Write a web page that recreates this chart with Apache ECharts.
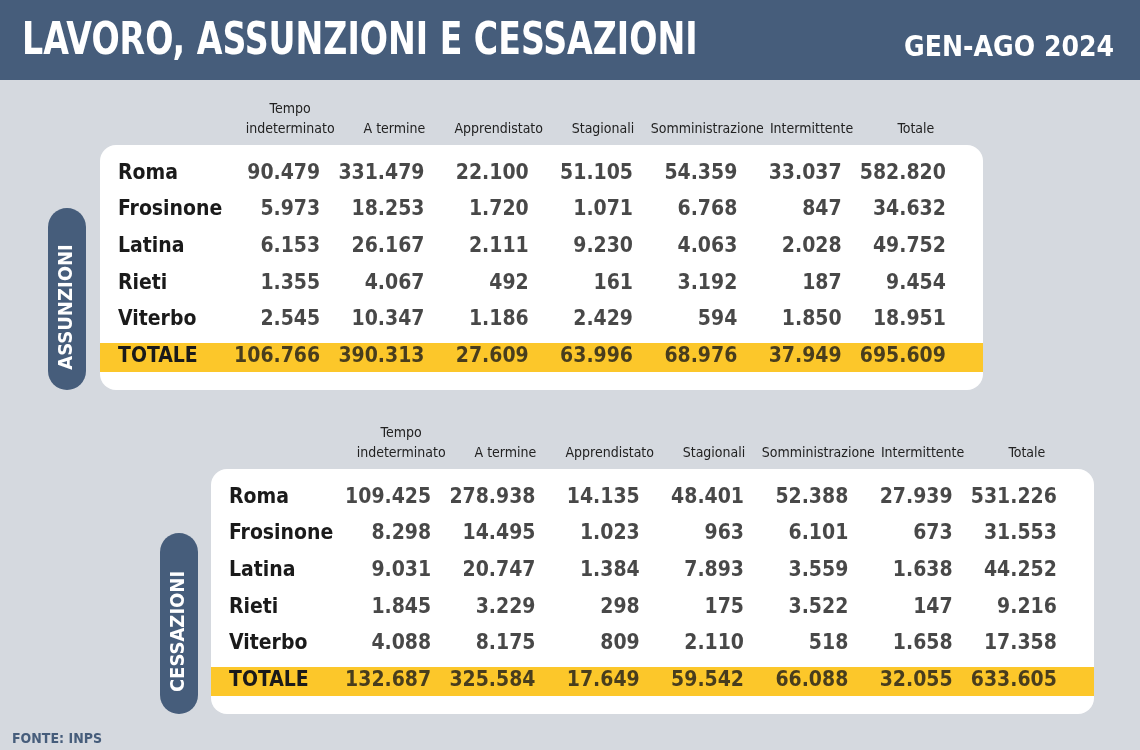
<!DOCTYPE html>
<html><head><meta charset="utf-8">
<script src="https://cdn.jsdelivr.net/npm/echarts@6/dist/echarts.min.js"></script>
<style>html,body{margin:0;padding:0;background:#d5d9df}#chart{width:1140px;height:750px}</style>
</head><body><div id="chart"></div>
<script>
// column headings and row names
var columns = ['Tempo\nindeterminato', 'A termine', 'Apprendistato', 'Stagionali', 'Somministrazione', 'Intermittente', 'Totale'];
var provinces = ['Roma', 'Frosinone', 'Latina', 'Rieti', 'Viterbo', 'TOTALE'];

var assunzioni = [
    [90479, 331479, 22100, 51105, 54359, 33037, 582820],
    [5973, 18253, 1720, 1071, 6768, 847, 34632],
    [6153, 26167, 2111, 9230, 4063, 2028, 49752],
    [1355, 4067, 492, 161, 3192, 187, 9454],
    [2545, 10347, 1186, 2429, 594, 1850, 18951],
    [106766, 390313, 27609, 63996, 68976, 37949, 695609]
];
var cessazioni = [
    [109425, 278938, 14135, 48401, 52388, 27939, 531226],
    [8298, 14495, 1023, 963, 6101, 673, 31553],
    [9031, 20747, 1384, 7893, 3559, 1638, 44252],
    [1845, 3229, 298, 175, 3522, 147, 9216],
    [4088, 8175, 809, 2110, 518, 1658, 17358],
    [132687, 325584, 17649, 59542, 66088, 32055, 633605]
];

const FONT = '"DejaVu Sans Condensed", "Liberation Sans Narrow", sans-serif';
const SLATE = '#465d7b';
const YELLOW = '#fcc72a';

function fmt(n) {
    return String(n).replace(/\B(?=(\d{3})+(?!\d))/g, '.');
}
function cells(table) {
    var out = [];
    table.forEach((row, r) => row.forEach((v, c) => out.push([c, r, v])));
    return out;
}

// table layout: grid box for the numeric columns, panel around it
function tableParts(idx, dx, dy, table) {
    var grid = {left: 238 + dx, top: 155 + dy, width: 730, height: 220};
    var xAxis = {
        gridIndex: idx, type: 'category', data: columns, position: 'top',
        axisLine: {show: false}, axisTick: {show: false}, splitLine: {show: false},
        axisLabel: {interval: 0, margin: 16, color: '#222', fontFamily: FONT, fontSize: 14, lineHeight: 20}
    };
    var yAxis = {
        gridIndex: idx, type: 'category', data: provinces, inverse: true,
        axisLine: {show: false}, axisTick: {show: false}, splitLine: {show: false},
        axisLabel: {interval: 0, align: 'left', margin: 120, color: '#1a1a1a', fontFamily: FONT, fontSize: 21, fontWeight: 'bold'}
    };
    var series = {
        type: 'scatter', xAxisIndex: idx, yAxisIndex: idx, symbolSize: 0,
        data: cells(table), silent: true,
        label: {show: true, position: 'inside', align: 'right', offset: [30, 0],
            formatter: p => fmt(p.value[2]), color: '#1a1a1a', fontFamily: FONT, fontSize: 21, fontWeight: 'bold'}
    };
    var graphics = [
        {type: 'rect', shape: {x: 100 + dx, y: 145 + dy, width: 883, height: 245, r: 16}, style: {fill: '#fff'}, z: -10},
        {type: 'rect', shape: {x: 100 + dx, y: 343 + dy, width: 883, height: 29}, style: {fill: YELLOW}, z: -9}
    ];
    return {grid, xAxis, yAxis, series, graphics};
}

var t1 = tableParts(0, 0, 0, assunzioni);
var t2 = tableParts(1, 111, 324, cessazioni);

function pill(x, yTop, yBot, text) {
    return [
        {type: 'rect', shape: {x: x, y: yTop, width: 38, height: yBot - yTop, r: 19}, style: {fill: SLATE}},
        {type: 'text', x: x + 19, y: (yTop + yBot) / 2 + 8, rotation: Math.PI / 2,
            style: {text: text, fill: '#fff', font: 'bold 20px ' + FONT, textAlign: 'center', textVerticalAlign: 'middle'}}
    ];
}

var chart = echarts.init(document.getElementById('chart'));
chart.setOption({
    backgroundColor: '#d5d9df',
    animation: false,
    grid: [t1.grid, t2.grid],
    xAxis: [t1.xAxis, t2.xAxis],
    yAxis: [t1.yAxis, t2.yAxis],
    series: [t1.series, t2.series],
    graphic: [
        {type: 'rect', shape: {x: 0, y: 0, width: 1140, height: 80}, style: {fill: SLATE}},
        {type: 'text', x: 22, y: 20, scaleX: 0.82, style: {text: 'LAVORO, ASSUNZIONI E CESSAZIONI', fill: '#fff', font: 'bold 45px ' + FONT}},
        {type: 'text', right: 26, top: 35, style: {text: 'GEN-AGO 2024', fill: '#fff', font: 'bold 28px ' + FONT}},
        {type: 'text', left: 12, top: 732, style: {text: 'FONTE: INPS', fill: SLATE, font: 'bold 14px ' + FONT}}
    ].concat(t1.graphics, t2.graphics, pill(48, 208, 390, 'ASSUNZIONI'), pill(160, 533, 714, 'CESSAZIONI'))
});
</script></body></html>
